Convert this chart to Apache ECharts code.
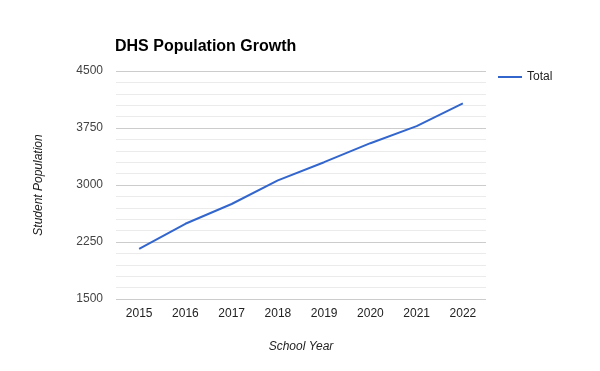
<!DOCTYPE html>
<html>
<head>
<meta charset="utf-8">
<script src="https://cdn.jsdelivr.net/npm/echarts@6/dist/echarts.min.js"></script>
<style>html,body{margin:0;padding:0;background:#fff}#c{width:600px;height:371px}</style>
</head>
<body>
<div id="c"></div>
<script>
const years = ['2015','2016','2017','2018','2019','2020','2021','2022'];
const totals = [2160, 2490, 2750, 3060, 3300, 3550, 3775, 4075];
const yMin = 1500, yMax = 4500, yStep = 750;

const font = '"Liberation Sans", Arial, sans-serif';
const chart = echarts.init(document.getElementById('c'));
chart.setOption({
  animation: false,
  textStyle: {fontFamily: font},
  title: {
    text: 'DHS Population Growth',
    left: 115, top: 39, padding: 0,
    textStyle: {fontFamily: font, fontSize: 16, fontWeight: 'bold', color: '#000'}
  },
  legend: {
    data: ['Total'],
    left: 498, top: 71, padding: 0,
    icon: 'rect', itemWidth: 24, itemHeight: 2, itemGap: 5,
    textStyle: {fontFamily: font, fontSize: 12, color: '#222'}
  },
  grid: {left: 116, right: 114, top: 71, bottom: 72},
  xAxis: {
    type: 'category', data: years, boundaryGap: true,
    axisLine: {show: false}, axisTick: {show: false},
    axisLabel: {fontFamily: font, fontSize: 12, color: '#222', margin: 9},
    name: 'School Year', nameLocation: 'middle', nameGap: 42,
    nameTextStyle: {fontFamily: font, fontSize: 12, fontStyle: 'italic', color: '#222'}
  },
  yAxis: {
    type: 'value', min: yMin, max: yMax, interval: yStep,
    axisLine: {show: false}, axisTick: {show: false},
    axisLabel: {fontFamily: font, fontSize: 12, color: '#444', margin: 13,
      formatter: v => String(v)},
    splitLine: {lineStyle: {color: '#cccccc', width: 1}},
    minorTick: {show: false, splitNumber: 5},
    minorSplitLine: {show: true, lineStyle: {color: '#ebebeb', width: 1}},
    name: 'Student Population', nameLocation: 'middle', nameGap: 71, nameRotate: 90,
    nameTextStyle: {fontFamily: font, fontSize: 12, fontStyle: 'italic', color: '#222'}
  },
  series: [{
    name: 'Total', type: 'line', data: totals,
    showSymbol: false, symbol: 'none',
    lineStyle: {color: '#3366cc', width: 2},
    itemStyle: {color: '#3366cc'}
  }]
});
</script>
</body>
</html>
